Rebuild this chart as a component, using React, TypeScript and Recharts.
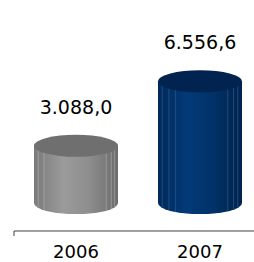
import { Bar, BarChart, LabelList, XAxis, YAxis } from 'recharts';

const YEARS = ['2006', '2007'];
const VALUES = [3088.0, 6556.6];

const PALETTE = [
  {
    side: ['#7a7a7a', '#9b9b9b', '#8e8e8e', '#6c6c6c'],
    top: '#6f6f6f',
    line: '#b4b4b4',
    facets: [0.05, 0.12, 0.86, 0.92, 0.96],
  },
  {
    side: ['#00295a', '#023a78', '#013268', '#00234c'],
    top: '#00244f',
    line: '#3d6496',
    facets: [0.05, 0.13, 0.21, 0.83, 0.9, 0.95],
  },
];

const data = YEARS.map((year, i) => ({ year, value: VALUES[i] }));

const formatValue = (v: number) => {
  const [int, dec] = v.toFixed(1).split('.');
  return int.replace(/\B(?=(\d{3})+(?!\d))/g, '.') + ',' + dec;
};

function Cylinder(props: any) {
  const { x, y, width, height, index } = props;
  const p = PALETTE[index % PALETTE.length];
  const rx = width / 2;
  const ry = 11;
  const cx = x + rx;
  const bottom = y + height;
  const gid = `side-${index}`;
  return (
    <g>
      <defs>
        <linearGradient id={gid} x1="0" x2="1" y1="0" y2="0">
          <stop offset="0" stopColor={p.side[0]} />
          <stop offset="0.35" stopColor={p.side[1]} />
          <stop offset="0.65" stopColor={p.side[2]} />
          <stop offset="1" stopColor={p.side[3]} />
        </linearGradient>
      </defs>
      <path
        d={`M${x},${y} L${x},${bottom} A${rx},${ry} 0 0 0 ${x + width},${bottom} L${x + width},${y} Z`}
        fill={`url(#${gid})`}
      />
      {p.facets.map((f) => {
        const lx = x + f * width;
        const t = (lx - cx) / rx;
        const dy = ry * Math.sqrt(Math.max(0, 1 - t * t));
        return (
          <line
            key={f}
            x1={lx}
            x2={lx}
            y1={y + dy}
            y2={bottom + dy}
            stroke={p.line}
            strokeWidth={0.7}
            strokeOpacity={0.8}
          />
        );
      })}
      <ellipse cx={cx} cy={y} rx={rx} ry={ry} fill={p.top} />
    </g>
  );
}

function ValueLabel(props: any) {
  const { x, y, width, value } = props;
  return (
    <text
      x={x + width / 2}
      y={y - 32}
      textAnchor="middle"
      fontSize={19}
      fontFamily="DejaVu Sans"
      fill="#000"
    >
      {formatValue(value)}
    </text>
  );
}

export default function App() {
  return (
    <div
      style={{
        position: 'absolute',
        left: 0,
        top: 0,
        width: 254,
        height: 262,
        overflow: 'hidden',
        background: '#fff',
        fontFamily: 'DejaVu Sans',
      }}
    >
      <BarChart
        width={262}
        height={262}
        data={data}
        margin={{ top: 73, right: 0, left: 14, bottom: 0 }}
      >
        {/* axis line with ticks between categories */}
        <XAxis
          xAxisId={0}
          type="number"
          domain={[0, 2]}
          ticks={[0, 1, 2]}
          tickFormatter={() => ''}
          tickSize={5}
          height={5}
          allowDataOverflow
          axisLine={{ stroke: '#404040' }}
          tickLine={{ stroke: '#404040' }}
        />
        <XAxis
          xAxisId="cat"
          dataKey="year"
          axisLine={false}
          tickLine={false}
          tickSize={0}
          tickMargin={9}
          height={26}
          interval={0}
          tick={{ fontSize: 18, fill: '#000', fontFamily: 'DejaVu Sans' }}
        />
        <YAxis hide domain={[-1500, 7000]} />
        <Bar
          xAxisId="cat"
          dataKey="value"
          barSize={84}
          shape={<Cylinder />}
          isAnimationActive={false}
        >
          <LabelList dataKey="value" content={<ValueLabel />} />
        </Bar>
      </BarChart>
    </div>
  );
}
